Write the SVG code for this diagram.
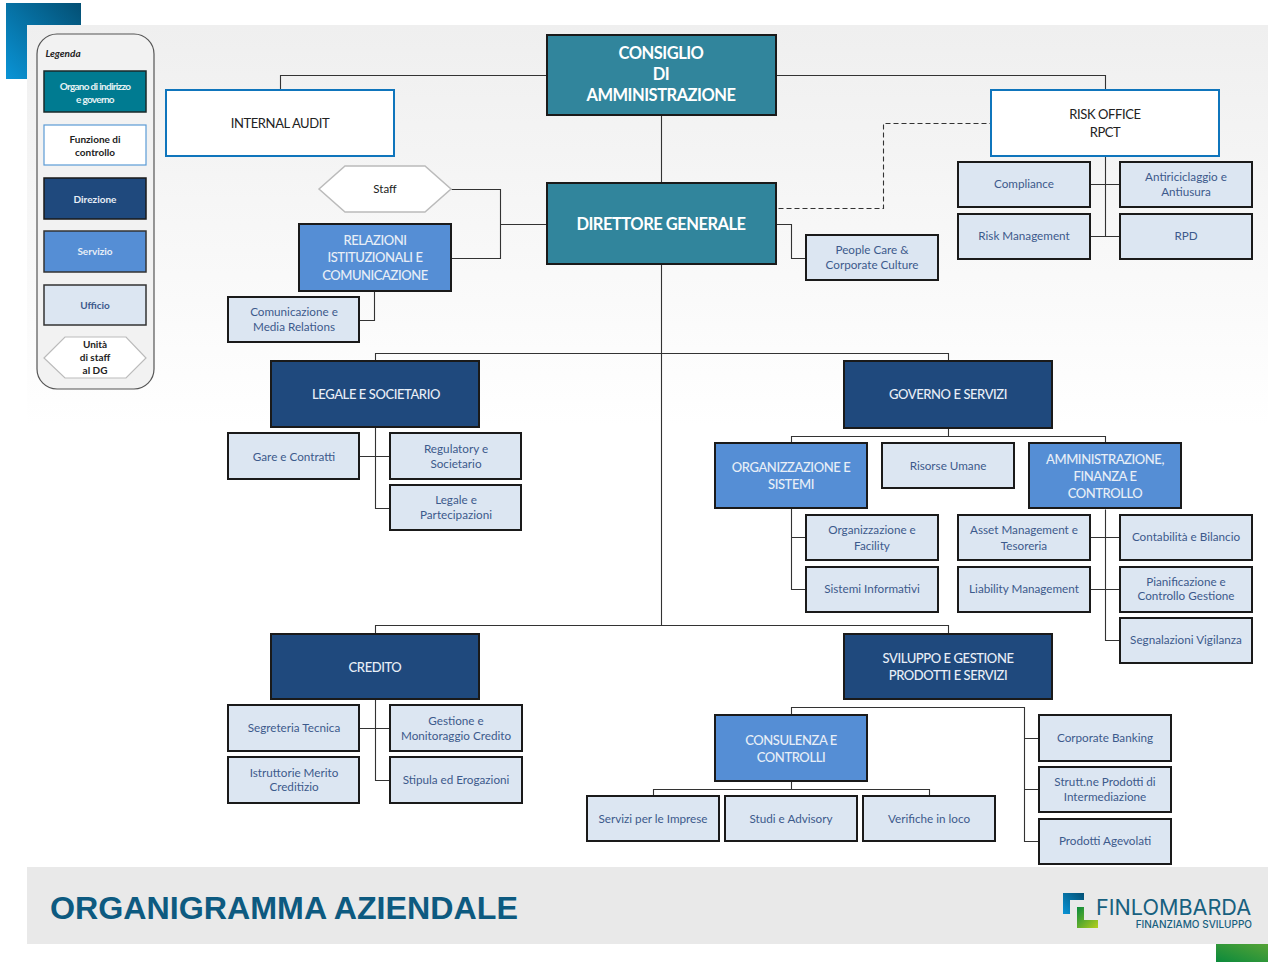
<svg xmlns="http://www.w3.org/2000/svg" width="1268" height="962" viewBox="0 0 1268 962">
<style>
text{font-family:Lato,"Liberation Sans",sans-serif;text-anchor:middle}
.c{fill:none;stroke:#333;stroke-width:1.1}
.u rect{fill:#dce6f2;stroke:#1a1a1a;stroke-width:2}
.u text{fill:#3c5a8c;font-size:11.7px}
.d rect{fill:#1f497d;stroke:#1a1a1a;stroke-width:2}
.s rect{fill:#558ed5;stroke:#1a1a1a;stroke-width:2}
.d text,.s text{fill:#e8eef7;font-size:13px;font-weight:500;letter-spacing:-.42px}
.a rect{fill:#31859c;stroke:#1a1a1a;stroke-width:2}
.a text{fill:#fff;font-size:16.5px;font-weight:700;letter-spacing:-.5px}
.f rect{fill:#fff;stroke:#0f75bc;stroke-width:2}
.f text{fill:#222;font-size:13px;letter-spacing:-.4px}
.l text{font-size:10px;font-weight:700}
</style>
<defs>
<linearGradient id="bg" x1="0" y1="0" x2="0" y2="1"><stop offset="0" stop-color="#efefef"/><stop offset="1" stop-color="#fff"/></linearGradient>
<linearGradient id="corner" x1="0" y1="1" x2="1" y2="0"><stop offset="0" stop-color="#0a94d6"/><stop offset="1" stop-color="#034f73"/></linearGradient>
<linearGradient id="green" x1="0" y1="1" x2="1" y2="0"><stop offset="0" stop-color="#0b8a3c"/><stop offset="1" stop-color="#55a336"/></linearGradient>
<linearGradient id="logoB" x1="0" y1="1" x2="1" y2="0"><stop offset="0" stop-color="#0a94d6"/><stop offset="1" stop-color="#034f73"/></linearGradient>
<linearGradient id="logoG" x1="0" y1="0" x2="1" y2="1"><stop offset="0" stop-color="#0b8a3c"/><stop offset="1" stop-color="#b5cf1c"/></linearGradient>
</defs>
<rect id="corner-square" x="6" y="3" width="75" height="76" fill="url(#corner)"/>
<rect id="background" x="27" y="25" width="1241" height="400" fill="url(#bg)"/>
<rect id="footer-band" x="27" y="867" width="1241" height="77" fill="#e9e9e9"/>
<rect id="corner-green" x="1216" y="944" width="52" height="18" fill="url(#green)"/>

<g id="connectors" transform="translate(.5 .5)">
<path class="c" d="M661 115V625M547 75H280V90M776 75H1105V90"/>
<path class="c" d="M1105 156V236M1090 184H1120M1090 236H1120"/>
<path class="c" stroke-dasharray="5 3" d="M778 208H883V123H991"/>
<path class="c" d="M776 224H791V258H806"/>
<path class="c" d="M451 189H500V258H451M500 224H547"/>
<path class="c" d="M374 291V320H359"/>
<path class="c" d="M375 361V353H948V361"/>
<path class="c" d="M375 427V508H390M359 456H390"/>
<path class="c" d="M948 428V436M791 443V436H1105V443"/>
<path class="c" d="M791 508V589H806M791 537H806"/>
<path class="c" d="M1105 509V640H1120M1090 537H1120M1090 589H1120"/>
<path class="c" d="M375 633V625H948V633"/>
<path class="c" d="M375 699V780H390M359 728H390"/>
<path class="c" d="M791 715V707H1024V841H1039M1024 738H1039M1024 789H1039"/>
<path class="c" d="M791 781V789M653 796V789H929V796"/>
</g>

<g id="legend">
<rect x="37" y="34" width="117" height="355" rx="20" fill="#f2f2f2" stroke="#555" stroke-width="1.2"/>
<text x="63" y="57" font-size="10" font-style="italic" font-weight="700" fill="#222">Legenda</text>
<g class="l">
<rect x="44" y="71" width="102" height="41" fill="#007b91" stroke="#1a2a2a" stroke-width="1.5"/>
<text x="95" y="90" fill="#e5f2f4" letter-spacing="-.7">Organo di indirizzo</text><text x="95" y="103" fill="#e5f2f4" letter-spacing="-.7">e governo</text>
<rect x="44" y="125" width="102" height="40" fill="#fff" stroke="#5b9bd5" stroke-width="1.2"/>
<text x="95" y="143" fill="#222">Funzione di</text><text x="95" y="156" fill="#222">controllo</text>
<rect x="44" y="178" width="102" height="41" fill="#1f497d" stroke="#1a1a1a" stroke-width="1.5"/>
<text x="95" y="203" fill="#e8eef7">Direzione</text>
<rect x="44" y="231" width="102" height="41" fill="#558ed5" stroke="#333" stroke-width="1.5"/>
<text x="95" y="255" fill="#e8eef7">Servizio</text>
<rect x="44" y="285" width="102" height="40" fill="#dce6f2" stroke="#333" stroke-width="1.5"/>
<text x="95" y="309" fill="#3c5a8c">Ufficio</text>
<polygon points="44,358 65,337 126,337 146,358 126,378 65,378" fill="#fff" stroke="#bbb" stroke-width="1.2"/>
<text x="95" y="348" fill="#222">Unità</text><text x="95" y="361" fill="#222">di staff</text><text x="95" y="374" fill="#222">al DG</text>
</g>
</g>

<g id="cda" class="a"><rect x="547" y="35" width="229" height="80"/><text x="661" y="59">CONSIGLIO</text><text x="661" y="80">DI</text><text x="661" y="101">AMMINISTRAZIONE</text></g>
<g id="dg" class="a"><rect x="547" y="183" width="229" height="81"/><text x="661" y="230">DIRETTORE GENERALE</text></g>
<g id="internal-audit" class="f"><rect x="166" y="90" width="228" height="66"/><text x="280" y="128">INTERNAL AUDIT</text></g>
<g id="risk-office" class="f"><rect x="991" y="90" width="228" height="66"/><text x="1105" y="118.500">RISK OFFICE</text><text x="1105" y="137">RPCT</text></g>
<g id="staff"><polygon points="319,189 345,166 425,166 451,189 425,212 345,212" fill="#fff" stroke="#bbb" stroke-width="1.5"/><text x="385" y="193" font-size="11.5" fill="#222">Staff</text></g>

<g id="compliance" class="u"><rect x="958" y="162" width="132" height="45"/><text x="1024" y="188">Compliance</text></g>
<g id="antiriciclaggio" class="u"><rect x="1120" y="162" width="132" height="45"/><text x="1186" y="181">Antiriciclaggio e</text><text x="1186" y="196">Antiusura</text></g>
<g id="risk-management" class="u"><rect x="958" y="214" width="132" height="45"/><text x="1024" y="240">Risk Management</text></g>
<g id="rpd" class="u"><rect x="1120" y="214" width="132" height="45"/><text x="1186" y="240">RPD</text></g>
<g id="people-care" class="u"><rect x="806" y="235" width="132" height="45"/><text x="872" y="254">People Care &amp;</text><text x="872" y="269">Corporate Culture</text></g>
<g id="relazioni" class="s"><rect x="299" y="224" width="152" height="67"/><text x="375" y="244.500">RELAZIONI</text><text x="375" y="261.500">ISTITUZIONALI E</text><text x="375" y="279.500">COMUNICAZIONE</text></g>
<g id="comunicazione" class="u"><rect x="228" y="297" width="131" height="45"/><text x="294" y="316">Comunicazione e</text><text x="294" y="331">Media Relations</text></g>

<g id="legale" class="d"><rect x="271" y="361" width="208" height="66"/><text x="376" y="398.500">LEGALE E SOCIETARIO</text></g>
<g id="governo" class="d"><rect x="844" y="361" width="208" height="67"/><text x="948" y="398.500">GOVERNO E SERVIZI</text></g>
<g id="gare" class="u"><rect x="228" y="433" width="131" height="46"/><text x="294" y="461">Gare e Contratti</text></g>
<g id="regulatory" class="u"><rect x="390" y="433" width="131" height="46"/><text x="456" y="453">Regulatory e</text><text x="456" y="468">Societario</text></g>
<g id="legale-partecipazioni" class="u"><rect x="390" y="485" width="131" height="45"/><text x="456" y="504">Legale e</text><text x="456" y="519">Partecipazioni</text></g>

<g id="organizzazione-sistemi" class="s"><rect x="715" y="443" width="152" height="65"/><text x="791" y="472">ORGANIZZAZIONE E</text><text x="791" y="489">SISTEMI</text></g>
<g id="risorse-umane" class="u"><rect x="882" y="443" width="132" height="45"/><text x="948" y="470">Risorse Umane</text></g>
<g id="amministrazione" class="s"><rect x="1029" y="443" width="152" height="65"/><text x="1105" y="464">AMMINISTRAZIONE,</text><text x="1105" y="481">FINANZA E</text><text x="1105" y="498">CONTROLLO</text></g>
<g id="organizzazione-facility" class="u"><rect x="806" y="515" width="132" height="45"/><text x="872" y="534">Organizzazione e</text><text x="872" y="550">Facility</text></g>
<g id="sistemi-informativi" class="u"><rect x="806" y="567" width="132" height="45"/><text x="872" y="593">Sistemi Informativi</text></g>
<g id="asset" class="u"><rect x="958" y="515" width="132" height="45"/><text x="1024" y="534">Asset Management e</text><text x="1024" y="550">Tesoreria</text></g>
<g id="liability" class="u"><rect x="958" y="567" width="132" height="45"/><text x="1024" y="593">Liability Management</text></g>
<g id="contabilita" class="u"><rect x="1120" y="515" width="132" height="45"/><text x="1186" y="541">Contabilità e Bilancio</text></g>
<g id="pianificazione" class="u"><rect x="1120" y="567" width="132" height="45"/><text x="1186" y="586">Pianificazione e</text><text x="1186" y="600">Controllo Gestione</text></g>
<g id="segnalazioni" class="u"><rect x="1120" y="618" width="132" height="45"/><text x="1186" y="644">Segnalazioni Vigilanza</text></g>

<g id="credito" class="d"><rect x="271" y="634" width="208" height="65"/><text x="375" y="672">CREDITO</text></g>
<g id="sviluppo" class="d"><rect x="844" y="634" width="208" height="65"/><text x="948" y="663">SVILUPPO E GESTIONE</text><text x="948" y="680">PRODOTTI E SERVIZI</text></g>
<g id="segreteria" class="u"><rect x="228" y="705" width="131" height="46"/><text x="294" y="732">Segreteria Tecnica</text></g>
<g id="gestione" class="u"><rect x="390" y="705" width="132" height="46"/><text x="456" y="725">Gestione e</text><text x="456" y="740">Monitoraggio Credito</text></g>
<g id="istruttorie" class="u"><rect x="228" y="757" width="131" height="46"/><text x="294" y="777">Istruttorie Merito</text><text x="294" y="791">Creditizio</text></g>
<g id="stipula" class="u"><rect x="390" y="757" width="132" height="46"/><text x="456" y="784">Stipula ed Erogazioni</text></g>
<g id="consulenza" class="s"><rect x="715" y="715" width="152" height="66"/><text x="791" y="745">CONSULENZA E</text><text x="791" y="762">CONTROLLI</text></g>
<g id="corporate-banking" class="u"><rect x="1039" y="715" width="132" height="46"/><text x="1105" y="742">Corporate Banking</text></g>
<g id="struttne" class="u"><rect x="1039" y="767" width="132" height="45"/><text x="1105" y="786">Strutt.ne Prodotti di</text><text x="1105" y="801">Intermediazione</text></g>
<g id="prodotti-agevolati" class="u"><rect x="1039" y="819" width="132" height="45"/><text x="1105" y="845">Prodotti Agevolati</text></g>
<g id="servizi-imprese" class="u"><rect x="587" y="796" width="132" height="45"/><text x="653" y="823">Servizi per le Imprese</text></g>
<g id="studi" class="u"><rect x="725" y="796" width="132" height="45"/><text x="791" y="823">Studi e Advisory</text></g>
<g id="verifiche" class="u"><rect x="863" y="796" width="132" height="45"/><text x="929" y="823">Verifiche in loco</text></g>

<text id="title" x="50" y="919" style="text-anchor:start;font-family:'Liberation Sans',Arial,sans-serif" font-size="32.2" font-weight="700" fill="#0d5a80">ORGANIGRAMMA AZIENDALE</text>
<g id="logo">
<path d="M1063 893H1084V900H1070V914H1063Z" fill="url(#logoB)"/>
<path d="M1077 907H1084V920H1098V928H1077Z" fill="url(#logoG)"/>
<text x="1096" y="915" style="text-anchor:start;font-family:Inter,'Liberation Sans',sans-serif" font-size="21.6" fill="#17607f">FINLOMBARDA</text>
<text x="1252" y="928" style="text-anchor:end;font-family:Inter,'Liberation Sans',sans-serif" font-size="10" font-weight="500" fill="#17607f">FINANZIAMO SVILUPPO</text>
</g>
</svg>
